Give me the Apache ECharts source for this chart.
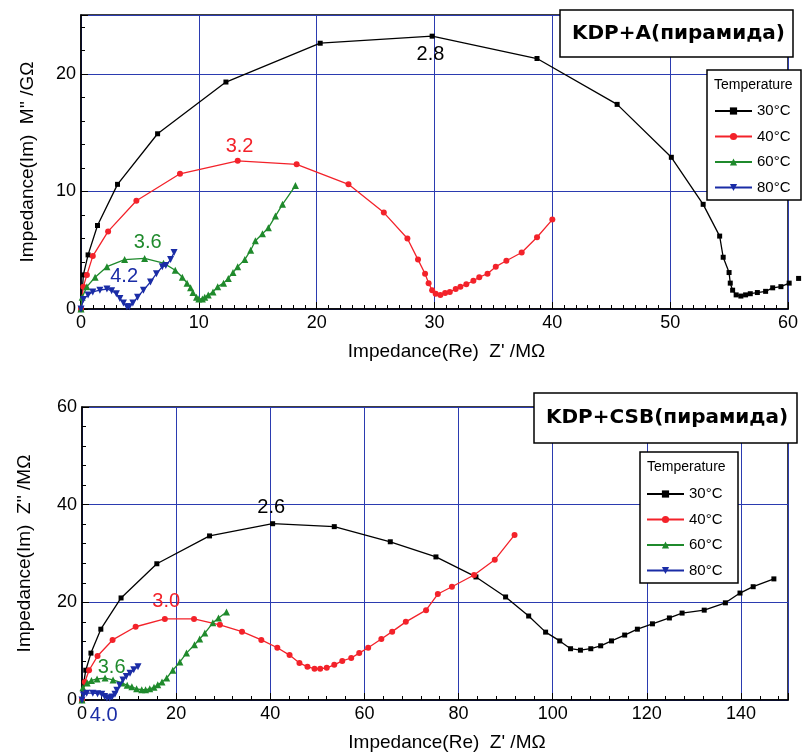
<!DOCTYPE html>
<html>
<head>
<meta charset="utf-8">
<script src="https://cdn.jsdelivr.net/npm/echarts@6/dist/echarts.min.js"></script>
<style>
  html, body { margin: 0; padding: 0; background: #fff; }
  #chart { width: 802px; height: 753px; }
</style>
</head>
<body>
<div id="chart"></div>
<script>
// legend entries
const temps = ['30°C', '40°C', '60°C', '80°C'];

// upper panel: KDP+A, Z' (MOhm) vs M'' (GOhm)
const topT30 = [[0,0],[0.2,2.9],[0.6,4.6],[1.4,7.1],[3.1,10.6],[6.5,14.9],[12.3,19.3],[20.3,22.6],[29.8,23.2],[38.7,21.3],[45.5,17.4],[50.1,12.9],[52.8,8.9],[54.2,6.2],[54.5,4.4],[55.0,3.1],[55.1,2.2],[55.3,1.6],[55.6,1.2],[56.0,1.1],[56.4,1.2],[56.8,1.3],[57.4,1.4],[58.1,1.5],[58.7,1.8],[59.4,1.9],[60.1,2.2],[60.9,2.6]];
const topT40 = [[0,0],[0.2,1.9],[0.5,2.9],[1.0,4.5],[2.3,6.6],[4.7,9.2],[8.4,11.5],[13.3,12.6],[18.3,12.3],[22.7,10.6],[25.7,8.2],[27.7,6.0],[28.6,4.2],[29.2,3.0],[29.5,2.2],[29.8,1.6],[30.1,1.3],[30.5,1.2],[30.9,1.35],[31.3,1.45],[31.8,1.7],[32.2,1.9],[32.7,2.1],[33.3,2.4],[33.8,2.7],[34.5,3.0],[35.2,3.6],[36.1,4.1],[37.4,4.8],[38.7,6.1],[40.0,7.6]];
const topT60 = [[0,0],[0.1,1.0],[0.5,1.9],[1.2,2.7],[2.2,3.6],[3.7,4.2],[5.4,4.3],[7.0,3.9],[8.0,3.3],[8.6,2.7],[9.0,2.2],[9.3,1.8],[9.5,1.4],[9.8,1.0],[10.0,0.85],[10.3,0.85],[10.5,1.0],[10.8,1.2],[11.2,1.45],[11.6,1.9],[12.1,2.2],[12.5,2.6],[12.9,3.1],[13.3,3.6],[13.9,4.2],[14.4,5.0],[14.8,5.8],[15.4,6.4],[15.9,6.9],[16.5,7.9],[17.1,8.9],[18.2,10.5]];
const topT80 = [[0,0],[0.2,0.8],[0.6,1.2],[1.0,1.45],[1.6,1.6],[2.2,1.7],[2.6,1.55],[3.0,1.3],[3.3,0.9],[3.6,0.5],[3.9,0.2],[4.1,0.2],[4.4,0.5],[4.8,1.0],[5.3,1.6],[5.9,2.3],[6.4,3.0],[6.9,3.6],[7.2,3.7],[7.6,4.2],[7.9,4.8]];
// peak frequency notes: [x, y, text]
const topNotes = [[29.7,21.6,'2.8'],[13.5,13.8,'3.2'],[5.7,5.6,'3.6'],[3.7,2.7,'4.2']];

// lower panel: KDP+CSB, Z' vs Z'' (MOhm)
const botT30 = [[0,0],[0.4,3.7],[0.8,6.1],[1.9,9.6],[4.0,14.5],[8.3,20.9],[15.9,27.9],[27.1,33.6],[40.5,36.1],[53.6,35.5],[65.5,32.4],[75.2,29.3],[83.7,25.2],[90.0,21.1],[94.9,17.2],[98.5,13.9],[101.5,12.1],[103.8,10.5],[105.9,10.2],[108.1,10.5],[110.2,11.1],[112.5,12.1],[115.3,13.3],[118.0,14.5],[121.2,15.6],[124.8,16.8],[127.5,17.8],[132.2,18.4],[136.7,19.9],[139.8,21.9],[142.6,23.2],[147.0,24.8]];
const botT40 = [[0,0],[0.6,3.7],[1.5,6.1],[3.3,9.0],[6.5,12.3],[11.4,15.0],[17.6,16.6],[23.8,16.6],[29.3,15.4],[34.0,14.0],[38.1,12.3],[41.5,10.7],[44.1,9.2],[46.2,7.6],[47.9,6.8],[49.4,6.4],[50.6,6.4],[52.0,6.6],[53.6,7.2],[55.3,8.0],[57.2,8.6],[58.9,9.6],[60.8,10.7],[63.6,12.5],[65.9,14.0],[68.8,16.0],[73.1,18.4],[75.6,21.7],[78.6,23.2],[83.3,25.6],[87.7,28.7],[91.9,33.8]];
const botT60 = [[0,0],[0.2,2.5],[1.1,3.5],[2.0,4.0],[3.2,4.3],[4.9,4.5],[6.6,4.1],[8.5,3.5],[9.6,3.0],[10.6,2.7],[11.6,2.3],[12.7,2.1],[13.5,2.1],[14.4,2.3],[15.3,2.6],[16.1,3.1],[17.0,3.7],[18.0,4.5],[19.3,6.1],[20.8,7.8],[22.2,9.6],[23.9,11.3],[25.0,12.5],[26.1,13.7],[27.8,15.8],[29.0,16.8],[30.7,18.0]];
const botT80 = [[0,0],[0.3,1.0],[1.0,1.4],[2.3,1.4],[3.3,1.3],[4.2,1.2],[4.8,0.7],[5.3,0.4],[5.9,0.4],[6.4,0.6],[7.0,1.2],[7.4,2.0],[8.0,3.0],[8.7,4.1],[9.4,4.8],[10.2,5.5],[11.0,6.2],[11.9,6.8]];
const botNotes = [[40.3,39.3,'2.6'],[18.0,20.1,'3.0'],[6.4,6.6,'3.6'],[4.7,-3.3,'4.0']];

const colors = ['#000000', '#f3222a', '#1f8a2c', '#1a2ca6'];
const symbols = ['rect', 'circle', 'triangle', 'path://M0,0L10,0L5,10Z'];
const symbolSizes = [5, 6, 7, 7];
const gridBlue = '#2b3bb0';
const font = 'Liberation Sans, Arial, sans-serif';

const chart = echarts.init(document.getElementById('chart'));

function curveSeries(gridIdx, sets) {
    return sets.map((d, i) => ({
        name: temps[i],
        type: 'line',
        xAxisIndex: gridIdx,
        yAxisIndex: gridIdx,
        data: d,
        clip: false,
        symbol: symbols[i],
        symbolSize: symbolSizes[i],
        showAllSymbol: true,
        color: colors[i],
        lineStyle: { width: 1.3, color: colors[i] },
        itemStyle: { color: colors[i] },
        animation: false,
        z: 2 + i
    }));
}

// text-only markers for the peak frequency notes
function noteSeries(gridIdx, notes) {
    return {
        type: 'scatter',
        xAxisIndex: gridIdx,
        yAxisIndex: gridIdx,
        clip: false,
        silent: true,
        symbolSize: 1,
        itemStyle: { color: 'rgba(0,0,0,0)' },
        data: notes.map((n, i) => ({
            value: [n[0], n[1]],
            label: {
                show: true, position: [0, 0], align: 'center', verticalAlign: 'middle',
                formatter: n[2], color: colors[i], opacity: 1, textBorderWidth: 0,
                fontSize: 20, fontFamily: font
            }
        })),
        z: 10
    };
}

function xAxis(gridIdx, max, interval) {
    return {
        type: 'value', gridIndex: gridIdx, min: 0, max: max, interval: interval,
        axisLine: { show: true, onZero: false, lineStyle: { color: '#000', width: 1.5 } },
        axisTick: { inside: true, length: 7, lineStyle: { color: '#000' } },
        minorTick: { show: true, splitNumber: gridIdx === 0 ? 10 : 5, length: 4, lineStyle: { color: '#000' } },
        axisLabel: { color: '#000', fontSize: 18, fontFamily: font, margin: 5, showMaxLabel: max % interval === 0 },
        splitLine: { show: true, lineStyle: { color: gridBlue, width: 1 } },
        name: "Impedance(Re)  Z' /M\u03A9",
        nameLocation: 'middle',
        nameGap: 33,
        nameTextStyle: { color: '#000', fontSize: 19, fontFamily: font, padding: [0, 0, 0, 24] }
    };
}

function yAxis(gridIdx, max, interval, label, gap) {
    return {
        type: 'value', gridIndex: gridIdx, min: 0, max: max, interval: interval,
        axisLine: { show: true, onZero: false, lineStyle: { color: '#000', width: 1.5 } },
        axisTick: { inside: true, length: 7, lineStyle: { color: '#000' } },
        minorTick: { show: true, splitNumber: 5, length: 4, lineStyle: { color: '#000' } },
        axisLabel: { color: '#000', fontSize: 18, fontFamily: font, margin: 5, showMaxLabel: max % interval === 0 },
        splitLine: { show: true, lineStyle: { color: gridBlue, width: 1 } },
        name: label,
        nameLocation: 'middle',
        nameGap: gap,
        nameTextStyle: { color: '#000', fontSize: 19, fontFamily: font }
    };
}

function legend(left, top) {
    return {
        data: temps, orient: 'vertical', left: left, top: top,
        itemWidth: 37, itemHeight: 9, itemGap: 9.5,
        textStyle: { color: '#000', fontSize: 15, fontFamily: font, lineHeight: 16 },
        selectedMode: false, z: 6
    };
}

function box(x, y, w, h) {
    return { type: 'rect', shape: { x: x, y: y, width: w, height: h },
             style: { fill: '#fff', stroke: '#000', lineWidth: 1.5 }, z: 4 };
}
function txt(x, y, text, size, bold, family) {
    return { type: 'text', x: x, y: y, z: 7,
             style: { text: text, fill: '#000', fontSize: size, fontWeight: bold ? 'bold' : 'normal',
                      fontFamily: family || font, align: 'left', verticalAlign: 'middle' } };
}

chart.setOption({
    animation: false,
    grid: [
        { left: 81, top: 15, width: 707, height: 294, show: true, borderColor: '#000', borderWidth: 1.5 },
        { left: 82, top: 407, width: 706, height: 293, show: true, borderColor: '#000', borderWidth: 1.5 }
    ],
    xAxis: [xAxis(0, 60, 10), xAxis(1, 150, 20)],
    yAxis: [
        yAxis(0, 25, 10, "Impedance(Im)  M'' /G\u03A9", 44),
        yAxis(1, 60, 20, "Impedance(Im)  Z'' /M\u03A9", 48)
    ],
    legend: [legend(709, 98), legend(641, 481)],
    graphic: [
        box(560, 10, 233, 47),
        txt(572, 34, 'KDP+A(пирамида)', 20, true, 'DejaVu Sans'),
        box(707, 70, 94, 130),
        txt(714, 85, 'Temperature', 14),
        box(534, 393, 263, 50),
        txt(546, 418, 'KDP+CSB(пирамида)', 20, true, 'DejaVu Sans'),
        box(640, 452, 98, 131),
        txt(647, 467, 'Temperature', 14)
    ],
    series: [].concat(
        curveSeries(0, [topT30, topT40, topT60, topT80]),
        [noteSeries(0, topNotes)],
        curveSeries(1, [botT30, botT40, botT60, botT80]),
        [noteSeries(1, botNotes)]
    )
});
</script>
</body>
</html>
